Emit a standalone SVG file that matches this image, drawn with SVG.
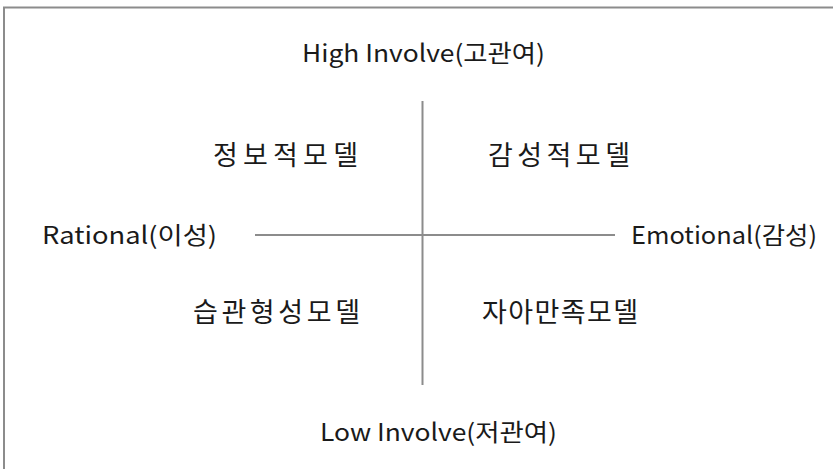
<svg xmlns="http://www.w3.org/2000/svg" width="833" height="469" viewBox="0 0 833 469">
<style>
.lbl{font-family:"Noto Sans CJK KR","Liberation Sans",sans-serif;font-size:24px;fill:#1a1a1a}
.mdl{font-family:"Noto Sans CJK KR","Liberation Sans",sans-serif;font-size:27px;fill:#1a1a1a}
.ax{stroke:#8c8c8c;stroke-width:2;fill:none}
</style>
<rect x="0" y="0" width="833" height="469" fill="#ffffff"/>
<path d="M4 470 V7.5 H834" fill="none" stroke="#8c8c8c" stroke-width="2"/>
<g id="connectors">
<line class="ax" x1="422.5" y1="101" x2="422.5" y2="385"/>
<line class="ax" x1="255" y1="235" x2="615" y2="235"/>
</g>
<g id="high"><text class="lbl" x="302" y="62" textLength="243" lengthAdjust="spacingAndGlyphs">High Involve(고관여)</text></g>
<g id="low"><text class="lbl" x="320" y="441" textLength="237" lengthAdjust="spacingAndGlyphs">Low Involve(저관여)</text></g>
<g id="rational"><text class="lbl" x="42" y="244" textLength="175" lengthAdjust="spacingAndGlyphs">Rational(이성)</text></g>
<g id="emotional"><text class="lbl" x="631" y="244" textLength="186" lengthAdjust="spacingAndGlyphs">Emotional(감성)</text></g>
<g id="info"><text class="mdl" x="213" y="165" textLength="145" lengthAdjust="spacing">정보적모델</text></g>
<g id="emo"><text class="mdl" x="488" y="165" textLength="142" lengthAdjust="spacing">감성적모델</text></g>
<g id="habit"><text class="mdl" x="193" y="322" textLength="167" lengthAdjust="spacing">습관형성모델</text></g>
<g id="self"><text class="mdl" x="482" y="322" textLength="156" lengthAdjust="spacing">자아만족모델</text></g>
</svg>
